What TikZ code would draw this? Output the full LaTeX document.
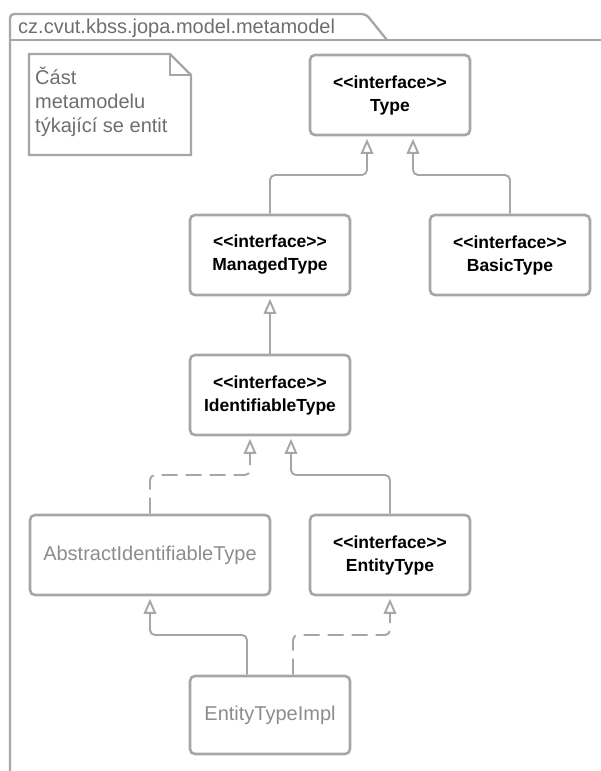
\documentclass[tikz,border=0pt]{standalone}
\usepackage{fontspec}
\setmainfont{Liberation Sans}
\usetikzlibrary{arrows.meta}
\definecolor{ln}{HTML}{A6A6A6}
\definecolor{tx}{HTML}{8C8C8C}
\definecolor{dk}{HTML}{6E6E6E}
\newcommand\stereo[1]{<\kern0pt<#1>\kern0pt>}
\begin{document}
\begin{tikzpicture}[x=1pt,y=-1pt,
 cls/.style={draw=ln, line width=2.6pt, rounded corners=5pt, minimum width=160pt, minimum height=80pt, align=center, inner sep=0pt},
 iface/.style={cls, font=\fontsize{17.5}{23}\selectfont\bfseries},
 plain/.style={cls, text=tx, font=\fontsize{20}{24}\selectfont},
 gen/.style={draw=ln, line width=1.9pt, rounded corners=5pt, shorten >=2.5pt, -{Triangle[open, length=15pt, width=12.5pt, line join=miter]}},
 real/.style={gen, dash pattern=on 16pt off 8pt},
 frame/.style={draw=ln, line width=2.3pt}]
\useasboundingbox (0,0) rectangle (601,771);
% package frame
\draw[frame, rounded corners=4pt] (10,780) -- (10,14) -- (366,14) -- (387,40);
\draw[frame] (10,40) -- (610,40);
\node[anchor=base west, inner sep=0pt, text=dk, font=\fontsize{20}{24}\selectfont] (pkg) at (18,33) {cz.cvut.kbss.jopa.model.metamodel};
% note
\draw[frame] (29,54) -- (170,54) -- (191,75) -- (191,155) -- (29,155) -- cycle;
\draw[frame] (170,54) -- (170,75) -- (191,75);
\node[anchor=north west, inner sep=0pt, align=left, text=dk, font=\fontsize{20}{24}\selectfont] (note) at (35,67) {Část\\metamodelu\\týkající se entit};
% classes
\node[iface] (type) at (390,95) {\stereo{interface}\\Type};
\node[iface] (mt) at (270,255) {\stereo{interface}\\ManagedType};
\node[iface] (bt) at (510,255) {\stereo{interface}\\BasicType};
\node[iface] (it) at (270,395) {\stereo{interface}\\IdentifiableType};
\node[plain, minimum width=240pt] (ait) at (150,555) {AbstractIdentifiableType};
\node[iface] (et) at (390,555) {\stereo{interface}\\EntityType};
\node[plain, minimum height=78pt] (eti) at (270,715) {EntityTypeImpl};
% connectors
\coordinate (j1) at (367,175);
\coordinate (j2) at (413,175);
\coordinate (j3) at (250,475);
\coordinate (j4) at (291,475);
\coordinate (j5) at (150,635);
\coordinate (j6) at (390,635);
\draw[gen] (mt.north) |- (j1) -- (j1 |- type.south);
\draw[gen] (bt.north) |- (j2) -- (j2 |- type.south);
\draw[gen] (it.north) -- (mt.south);
\draw[real] (ait.north) |- (j3) -- (j3 |- it.south);
\draw[gen] (et.north) |- (j4) -- (j4 |- it.south);
\draw[gen] ([xshift=-23pt]eti.north) |- (j5) -- (ait.south);
\draw[real] ([xshift=23pt]eti.north) |- (j6) -- (et.south);
\end{tikzpicture}
\end{document}
